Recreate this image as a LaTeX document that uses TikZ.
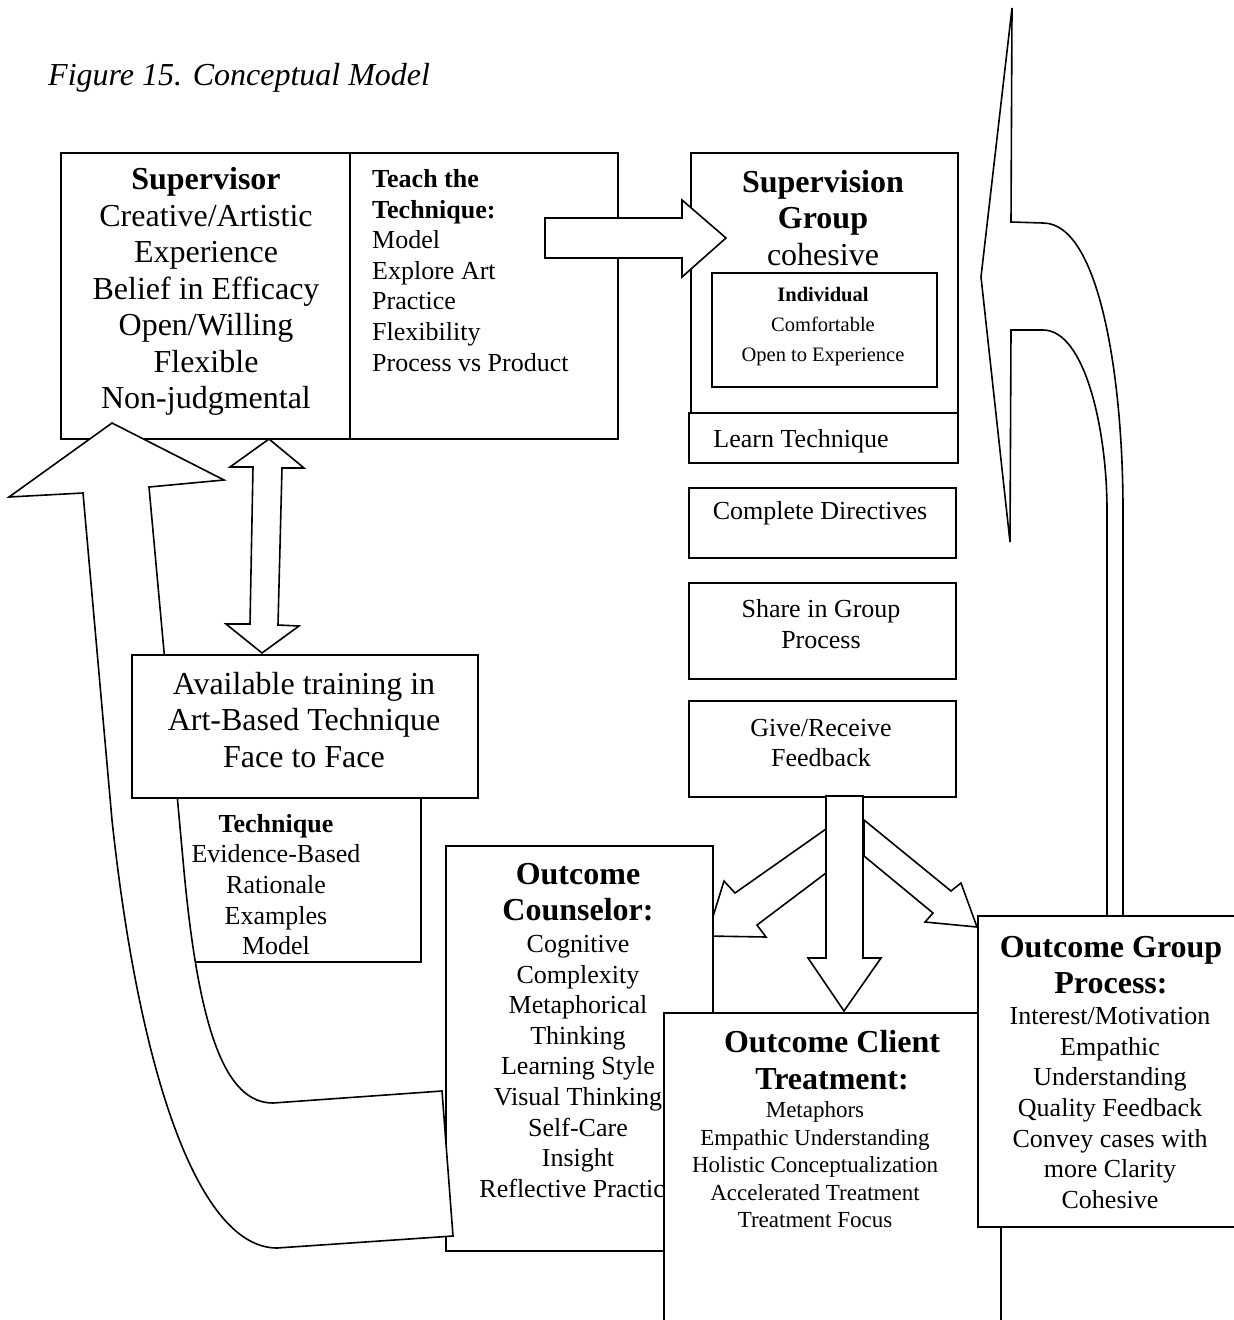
\documentclass[tikz,border=0pt]{standalone}
\usepackage{fontspec}
\setmainfont{Liberation Serif}
\newcommand\hdsize{\fontsize{32}{36.5}\selectfont}
\newcommand\mdsize{\fontsize{26}{30.6}\selectfont}
\newcommand\smsize{\fontsize{20.5}{30}\selectfont}
\newcommand\clsize{\fontsize{23}{27.5}\selectfont}
\begin{document}
\begin{tikzpicture}[x=1pt,y=-1pt,line join=miter,
	box/.style={draw,fill=white,line width=1.6pt,inner sep=0pt,anchor=north west},
	blk/.style={draw,fill=white,line width=1.6pt},
	txt/.style={align=center,inner sep=0pt}]
		\useasboundingbox (0,0) rectangle (1234,1320);
		\node[anchor=west,inner sep=0pt,font=\hdsize\itshape] (title) at (48,78) {Figure 15. Conceptual Model};
		%==Supervisor
		\node[box,minimum width=557,minimum height=286] (sup) at (60,152) {};
		\draw[line width=1.6pt] (350,152) -- (350,438);
		\node[txt,font=\hdsize] (suptxt) at (206,291.5) {\textbf{Supervisor}\\Creative/Artistic\\Experience\\Belief in Efficacy\\Open/Willing\\Flexible\\Non-judgmental};
		\node[txt,align=left,anchor=west,font=\mdsize] (teach) at (372,270.5) {\textbf{Teach the}\\\textbf{Technique:}\\Model\\Explore Art\\Practice\\Flexibility\\Process vs Product};
		%==Supervision group column
		\node[box,minimum width=267,minimum height=260] (grp) at (690,152) {};
		\node[txt,font=\hdsize] (grptxt) at (823,218) {\textbf{Supervision}\\\textbf{Group}\\cohesive};
		\node[box,minimum width=225,minimum height=114] (ind) at (711,272) {};
		\node[txt,font=\smsize] (indtxt) at (823,327) {\textbf{Individual}\\Comfortable\\Open to Experience};
		\node[box,minimum width=269,minimum height=50] (learn) at (688,412) {};
		\node[txt,font=\mdsize] (learntxt) at (801,441) {Learn Technique};
		\node[box,minimum width=267,minimum height=70] (dir) at (688,487) {};
		\node[txt,font=\mdsize] (dirtxt) at (820,513) {Complete Directives};
		\node[box,minimum width=267,minimum height=96] (share) at (688,582) {};
		\node[txt,font=\mdsize] (sharetxt) at (821,624) {Share in Group\\Process};
		\node[box,minimum width=267,minimum height=96] (fb) at (688,700) {};
		\node[txt,font=\mdsize] (fbtxt) at (821,743) {Give/Receive\\Feedback};
		%==arrows at the top
		\draw[blk] (545,218) -- (682,218) -- (682,200) -- (726,238) -- (682,277) -- (682,258) -- (545,258) -- cycle;
		\draw[blk] (269,439) -- (304,468) -- (282,468) -- (278,625) -- (299,626) -- (262,653) -- (226,624) -- (250,624) -- (253,467) -- (230,467) -- cycle;
		%==Technique
		\node[box,minimum width=260,minimum height=164] (tech) at (160,797) {};
		\node[txt,font=\mdsize] (techtxt) at (276,884.5) {\textbf{Technique}\\Evidence-Based\\Rationale\\Examples\\Model};
		%==feedback arrows
		\draw[blk] (826,829) -- (735,893) -- (724,881) -- (707,936) -- (766,937) -- (757,925) -- (826,873) -- cycle;
		\draw[blk] (864,820) -- (951,891) -- (961,883) -- (977,927) -- (925,922) -- (933,913) -- (864,856) -- cycle;
		\draw[blk] (826,796) -- (826,958) -- (808,958) -- (844,1011) -- (881,958) -- (863,958) -- (863,796) -- cycle;
		%==Outcome counselor
		\node[box,minimum width=267,minimum height=405] (cou) at (445,845) {};
		\node[txt,font=\hdsize] (couhd) at (578,892) {\textbf{Outcome}\\\textbf{Counselor:}};
		\node[txt,font=\mdsize] (coutxt) at (578,1066.5) {Cognitive\\Complexity\\Metaphorical\\Thinking\\Learning Style\\Visual Thinking\\Self-Care\\Insight\\Reflective Practice};
		%==curved arrow back to the supervisor
		\draw[blk] (112,423) -- (224,480) -- (149,487) -- (183,860) .. controls (198,1030) and (225,1103) .. (273,1103) -- (442,1091) -- (453,1236) -- (277,1248) .. controls (200,1248) and (140,1080) .. (112,820) -- (83,493) -- (9,497) -- cycle;
		%==Available training
		\node[box,minimum width=346,minimum height=143] (avail) at (131,654) {};
		\node[txt,font=\hdsize] (availtxt) at (304,720) {Available training in\\Art-Based Technique\\Face to Face};
		%==Outcome client
		\node[box,minimum width=337,minimum height=330] (cli) at (663,1012) {};
		\node[txt,font=\hdsize] (clihd) at (832,1060) {\textbf{Outcome Client}\\\textbf{Treatment:}};
		\node[txt,font=\clsize] (clitxt) at (815,1165) {Metaphors\\Empathic Understanding\\Holistic Conceptualization\\Accelerated Treatment\\Treatment Focus};
		%==curved arrow from the group process
		\draw[blk] (1012,8) -- (1011,222) -- (1043,223) .. controls (1100,223) and (1123,380) .. (1123,510) -- (1123,916) -- (1107,916) -- (1107,510) .. controls (1107,430) and (1085,330) .. (1043,330) -- (1011,330) -- (1010,542) -- (981,277) -- cycle;
		%==Outcome group process
		\node[box,minimum width=263,minimum height=311] (gp) at (977,915) {};
		\node[txt,font=\hdsize] (gphd) at (1111,965) {\textbf{Outcome Group}\\\textbf{Process:}};
		\node[txt,font=\mdsize] (gptxt) at (1110,1108) {Interest/Motivation\\Empathic\\Understanding\\Quality Feedback\\Convey cases with\\more Clarity\\Cohesive};
\end{tikzpicture}
\end{document}
